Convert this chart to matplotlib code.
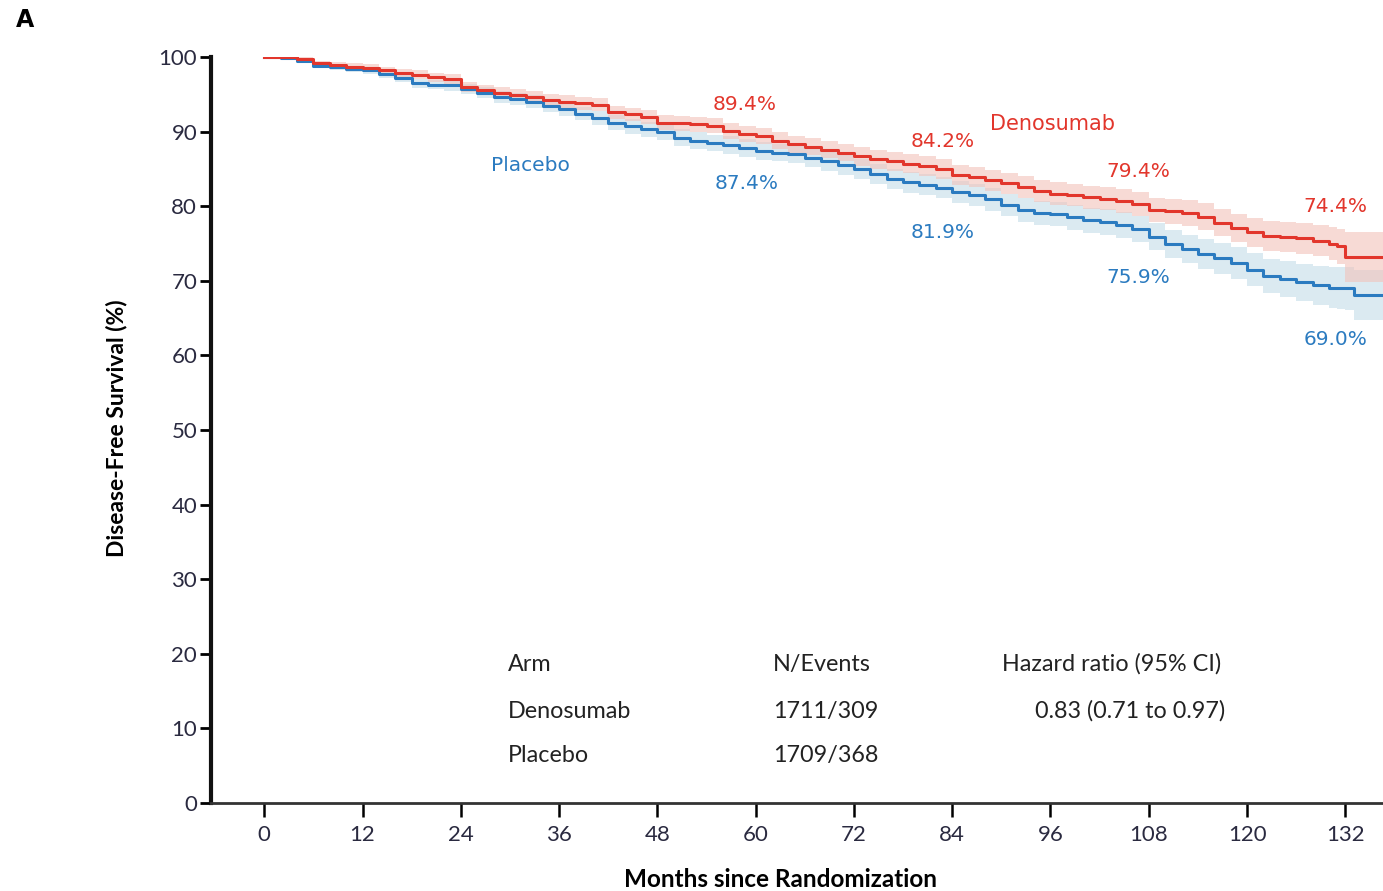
import matplotlib
matplotlib.use('Agg')
import matplotlib.pyplot as plt

# Kaplan-Meier readings (months, % disease-free)
months = [0, 2, 4, 6, 8, 10, 12, 14, 16, 18, 20, 22, 24, 26, 28, 30, 32, 34, 36, 38,
          40, 42, 44, 46, 48, 50, 52, 54, 56, 58, 60, 62, 64, 66, 68, 70, 72, 74, 76, 78,
          80, 82, 84, 86, 88, 90, 92, 94, 96, 98, 100, 102, 104, 106, 108, 110, 112, 114,
          116, 118, 120, 122, 124, 126, 128, 130, 131, 132, 133, 137]

dmab_surv = [100, 100, 99.8, 99.2, 98.9, 98.7, 98.5, 98.2, 97.9, 97.6, 97.3, 97.1, 96.0,
             95.6, 95.2, 94.9, 94.6, 94.3, 94.0, 93.8, 93.6, 92.6, 92.3, 92.0, 91.2, 91.1,
             91.0, 90.8, 90.1, 89.7, 89.4, 88.8, 88.3, 88.0, 87.6, 87.2, 86.7, 86.3, 86.0,
             85.7, 85.4, 85.0, 84.2, 83.9, 83.5, 83.1, 82.6, 82.0, 81.7, 81.5, 81.2, 81.0,
             80.7, 80.3, 79.5, 79.3, 79.1, 78.6, 77.8, 77.1, 76.5, 76.0, 75.9, 75.7, 75.4,
             75.0, 74.6, 73.2, 73.2, 73.2]
dmab_ci_half = [0, 0.05, 0.2, 0.3, 0.4, 0.45, 0.5, 0.5, 0.55, 0.6, 0.6, 0.65, 0.7, 0.7,
                0.75, 0.75, 0.8, 0.8, 0.85, 0.85, 0.9, 0.9, 0.9, 0.95, 1.0, 1.0, 1.0, 1.05,
                1.1, 1.1, 1.1, 1.15, 1.15, 1.2, 1.2, 1.2, 1.25, 1.25, 1.25, 1.3, 1.3, 1.3,
                1.35, 1.35, 1.4, 1.4, 1.45, 1.45, 1.5, 1.5, 1.55, 1.55, 1.6, 1.6, 1.65, 1.7,
                1.75, 1.8, 1.85, 1.9, 1.95, 2.0, 2.0, 2.05, 2.1, 2.2, 2.3, 3.3, 3.4, 3.5]

pbo_surv = [100, 99.9, 99.5, 98.8, 98.6, 98.4, 98.2, 97.7, 97.2, 96.5, 96.3, 96.2, 95.7,
            95.2, 94.7, 94.4, 94.0, 93.5, 93.0, 92.4, 91.8, 91.2, 90.7, 90.3, 89.9, 89.2,
            88.8, 88.5, 88.2, 87.8, 87.4, 87.2, 87.0, 86.5, 86.0, 85.5, 85.0, 84.3, 83.6,
            83.2, 82.9, 82.5, 81.9, 81.5, 80.9, 80.2, 79.5, 79.1, 78.9, 78.5, 78.1, 77.9,
            77.5, 77.0, 75.9, 74.9, 74.3, 73.6, 73.0, 72.4, 71.5, 70.6, 70.2, 69.8, 69.4,
            69.1, 69.0, 69.0, 68.1, 68.1]
pbo_ci_half = [0, 0.1, 0.25, 0.3, 0.4, 0.45, 0.5, 0.55, 0.6, 0.6, 0.65, 0.7, 0.7, 0.75,
               0.8, 0.8, 0.85, 0.85, 0.9, 0.9, 0.95, 1.0, 1.0, 1.0, 1.05, 1.1, 1.1, 1.1,
               1.15, 1.2, 1.2, 1.2, 1.2, 1.25, 1.25, 1.3, 1.3, 1.35, 1.35, 1.4, 1.4, 1.4,
               1.45, 1.45, 1.5, 1.5, 1.55, 1.6, 1.6, 1.65, 1.65, 1.7, 1.7, 1.75, 1.8, 1.85,
               1.9, 2.0, 2.05, 2.1, 2.2, 2.3, 2.4, 2.5, 2.6, 2.7, 2.8, 2.9, 3.4, 3.5]

# landmark labels: (month, y, text)
dmab_marks = [(58.7, 93.6, '89.4%'), (82.8, 88.7, '84.2%'), (106.7, 84.7, '79.4%'), (130.8, 80.0, '74.4%')]
pbo_marks = [(58.9, 83.1, '87.4%'), (82.8, 76.5, '81.9%'), (106.7, 70.4, '75.9%'), (130.8, 62.1, '69.0%')]

table_header = ['Arm', 'N/Events', 'Hazard ratio (95% CI)']
table_rows = [['Denosumab', '1711/309', '0.83 (0.71 to 0.97)'],
              ['Placebo', '1709/368', '']]

RED = '#e2362c'
BLUE = '#2b7bc0'
narrow = ['Lato', 'DejaVu Sans']

fig = plt.figure(figsize=(13.83, 8.91), dpi=100)
ax = fig.add_axes([0.1526, 0.0988, 0.8474, 0.8372])

# confidence bands
pbo_lo = [s - h for s, h in zip(pbo_surv, pbo_ci_half)]
pbo_hi = [s + h for s, h in zip(pbo_surv, pbo_ci_half)]
dmab_lo = [s - h for s, h in zip(dmab_surv, dmab_ci_half)]
dmab_hi = [s + h for s, h in zip(dmab_surv, dmab_ci_half)]
ax.fill_between(months, pbo_lo, pbo_hi, step='post', color='#c9dfea', alpha=0.65, lw=0)
ax.fill_between(months, dmab_lo, dmab_hi, step='post', color='#f2c2ba', alpha=0.6, lw=0)

# curves
ax.plot(months, pbo_surv, drawstyle='steps-post', color=BLUE, lw=2.2)
ax.plot(months, dmab_surv, drawstyle='steps-post', color=RED, lw=2.2)

for x, y, t in dmab_marks:
    ax.text(x, y, t, color=RED, fontsize=14.5, ha='center', va='center')
for x, y, t in pbo_marks:
    ax.text(x, y, t, color=BLUE, fontsize=14.5, ha='center', va='center')

ax.text(32.5, 85.4, 'Placebo', color=BLUE, fontsize=14.5, ha='center', va='center')
ax.text(96.2, 91.0, 'Denosumab', color=RED, fontsize=15, ha='center', va='center')

# summary table
col_x = [29.8, 62.1, 90.1]
row_y = [18.6, 12.3, 6.4]
for cx, t in zip(col_x, table_header):
    ax.text(cx, row_y[0], t, family=narrow, fontsize=16.8, ha='left', va='center', color='#222222')
for ry, row in zip(row_y[1:], table_rows):
    ax.text(col_x[0], ry, row[0], family=narrow, fontsize=16.8, ha='left', va='center', color='#222222')
    ax.text(col_x[1], ry, row[1], family=narrow, fontsize=16.8, ha='left', va='center', color='#222222')
    if row[2]:
        ax.text(117.3, ry, row[2], family=narrow, fontsize=16.8, ha='right', va='center', color='#222222')

ax.set_xlim(-6.5, 136.6)
ax.set_ylim(0, 100)
ax.set_xticks(range(0, 133, 12))
ax.set_yticks(range(0, 101, 10))
ax.spines['top'].set_visible(False)
ax.spines['right'].set_visible(False)
ax.spines['left'].set_linewidth(3)
ax.spines['bottom'].set_linewidth(2)
ax.spines['left'].set_color('#111111')
ax.spines['bottom'].set_color('#333333')
ax.tick_params(axis='y', direction='out', length=8, width=2, pad=2, labelsize=16)
ax.tick_params(axis='x', direction='out', length=10, width=1.8, pad=6, labelsize=16)
for lab in ax.get_xticklabels() + ax.get_yticklabels():
    lab.set_family(narrow)
    lab.set_color('#2a2a40')

ax.set_xlabel('Months since Randomization', fontsize=17.5, fontweight='bold', family=narrow)
ax.set_ylabel('Disease-Free Survival (%)', fontsize=16.5, fontweight='bold', family=narrow)
ax.xaxis.set_label_coords(0.486, -0.087)
ax.yaxis.set_label_coords(-0.071, 0.502)

fig.text(0.0115, 0.978, 'A', fontsize=17, fontweight='bold', ha='left', va='center')

fig.savefig('out.png', dpi=100)
